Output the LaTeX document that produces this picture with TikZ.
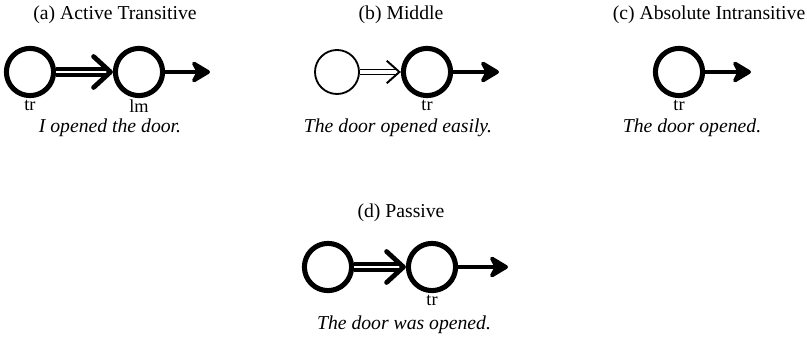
\documentclass[tikz,border=0pt]{standalone}
\usepackage{fontspec}
\setmainfont{Liberation Serif}
\usetikzlibrary{positioning, arrows.meta}

\tikzset{
  heavy/.style={circle, draw, line width=3.6pt, minimum size=1.18cm, inner sep=0pt},
  light/.style={circle, draw, line width=1.3pt, minimum size=1.1cm, inner sep=0pt},
  tag/.style={inner sep=0pt, font=\fontsize{13}{14}\selectfont},
  title/.style={font=\fontsize{14}{16}\selectfont},
  sentence/.style={font=\fontsize{14}{16}\selectfont\itshape},
  energy/.style={double, line width=2.5pt, double distance=1.5pt,
    -{Straight Barb[length=12pt, width=22pt, line width=3.4pt, round]}},
  weak/.style={double, line width=1.1pt, double distance=2.2pt,
    -{Straight Barb[length=9pt, width=16pt, line width=1.4pt]}},
  motion/.style={line width=3pt, -{Stealth[length=16pt, width=19pt, inset=5pt, round]}}
}

\begin{document}
\begin{tikzpicture}[x=0.025cm, y=-0.025cm]
      \useasboundingbox (0,0) rectangle (807,340);

      \node[title] (ta) at (115,15) {(a) Active Transitive};
      \node[heavy] (a1) at (30,72) {};
      \node[heavy] (a2) at (139,72) {};
      \coordinate (a3) at (210,72);
      \node[tag, below=1pt of a1] {tr};
      \node[tag, below=1pt of a2] {lm};
      \node[sentence] (sa) at (110,128) {I opened the door.};
      \draw[energy] (a1) -- (a2);
      \draw[motion] (a2) -- (a3);

      \node[title] (tb) at (401,15) {(b) Middle};
      \node[light] (b1) at (337,72) {};
      \node[heavy] (b2) at (427,72) {};
      \coordinate (b3) at (499,72);
      \node[tag, below=1pt of b2] {tr};
      \node[sentence] (sb) at (398,128) {The door opened easily.};
      \draw[weak] (b1) -- (b2);
      \draw[motion] (b2) -- (b3);

      \node[title] (tc) at (709,15) {(c) Absolute Intransitive};
      \node[heavy] (c1) at (679,72) {};
      \coordinate (c2) at (751,72);
      \node[tag, below=1pt of c1] {tr};
      \node[sentence] (sc) at (692,128) {The door opened.};
      \draw[motion] (c1) -- (c2);

      \node[title] (td) at (401,213) {(d) Passive};
      \node[heavy] (d1) at (328,267) {};
      \node[heavy] (d2) at (432,267) {};
      \coordinate (d3) at (508,267);
      \node[tag, below=1pt of d2] {tr};
      \node[sentence] (sd) at (404,325) {The door was opened.};
      \draw[energy] (d1) -- (d2);
      \draw[motion] (d2) -- (d3);
    \end{tikzpicture}
\end{document}
